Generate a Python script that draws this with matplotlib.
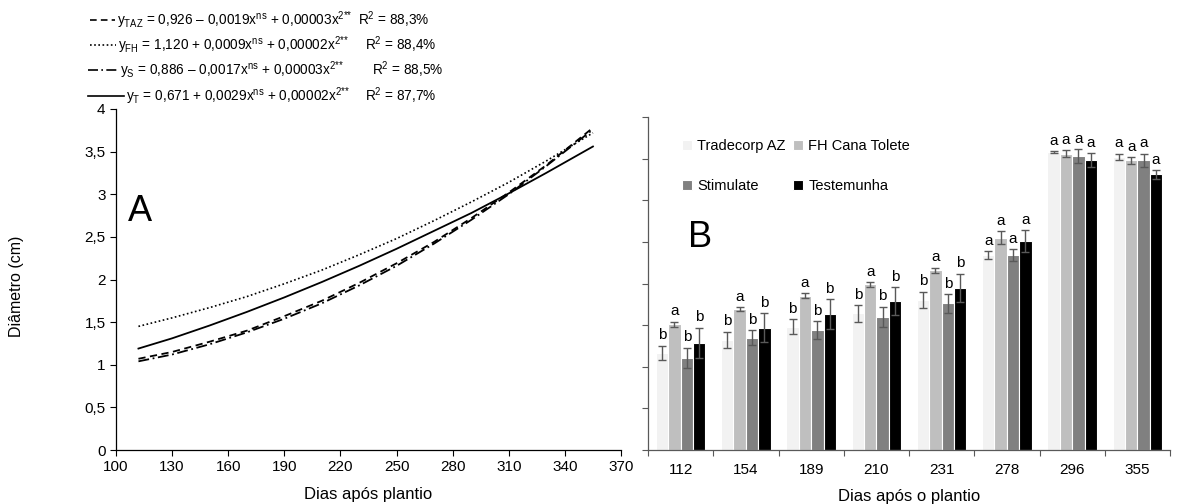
import numpy as np
import matplotlib
matplotlib.use('Agg')
import matplotlib.pyplot as plt
from matplotlib.lines import Line2D
from matplotlib.ticker import FixedLocator

plt.rcParams['font.family'] = ['Liberation Sans', 'DejaVu Sans']
plt.rcParams['mathtext.fontset'] = 'custom'
plt.rcParams['mathtext.rm'] = 'Liberation Sans'
plt.rcParams['mathtext.it'] = 'Liberation Sans'
plt.rcParams['mathtext.default'] = 'regular'

# panel A: fitted curves
days = [112, 130, 150, 170, 190, 210, 230, 250, 270, 290, 310, 330, 355]
curve_taz = [1.07, 1.15, 1.27, 1.40, 1.57, 1.75, 1.96, 2.19, 2.44, 2.72, 3.02, 3.34, 3.78]
curve_fh = [1.45, 1.55, 1.67, 1.80, 1.95, 2.11, 2.29, 2.48, 2.69, 2.91, 3.14, 3.39, 3.72]
curve_s = [1.04, 1.12, 1.24, 1.38, 1.54, 1.72, 1.93, 2.16, 2.42, 2.70, 3.00, 3.33, 3.76]
curve_t = [1.19, 1.31, 1.46, 1.62, 1.79, 1.97, 2.16, 2.36, 2.57, 2.78, 3.01, 3.25, 3.56]

eq_texts = [r'$y_{TAZ}$ = 0,926 – 0,0019x$^{ns}$ + 0,00003x$^{2{*}{*}}$',
            r'$y_{FH}$ = 1,120 + 0,0009x$^{ns}$ + 0,00002x$^{2{*}{*}}$',
            r'$y_{S}$ = 0,886 – 0,0017x$^{ns}$ + 0,00003x$^{2{*}{*}}$',
            r'$y_{T}$ = 0,671 + 0,0029x$^{ns}$ + 0,00002x$^{2{*}{*}}$']
r2_texts = [r'R$^{2}$ = 88,3%', r'R$^{2}$ = 88,4%', r'R$^{2}$ = 88,5%', r'R$^{2}$ = 87,7%']

# panel B: bar means, error bars and letters
dap = ['112', '154', '189', '210', '231', '278', '296', '355']
treatments = ['Tradecorp AZ', 'FH Cana Tolete', 'Stimulate', 'Testemunha']
trade_b = [1.17, 1.32, 1.48, 1.64, 1.80, 2.34, 3.58, 3.52]
fh_b = [1.51, 1.69, 1.85, 1.99, 2.16, 2.55, 3.56, 3.48]
stim_b = [1.11, 1.35, 1.44, 1.60, 1.76, 2.34, 3.53, 3.48]
test_b = [1.29, 1.47, 1.63, 1.79, 1.95, 2.51, 3.48, 3.31]
trade_err = [0.085, 0.10, 0.09, 0.10, 0.10, 0.05, 0.01, 0.04]
fh_err = [0.03, 0.025, 0.03, 0.03, 0.03, 0.08, 0.04, 0.04]
stim_err = [0.12, 0.09, 0.11, 0.12, 0.11, 0.07, 0.085, 0.08]
test_err = [0.18, 0.17, 0.18, 0.17, 0.17, 0.13, 0.085, 0.05]
trade_let = ['b', 'b', 'b', 'b', 'b', 'a', 'a', 'a']
fh_let = ['a', 'a', 'a', 'a', 'a', 'a', 'a', 'a']
stim_let = ['b', 'b', 'b', 'b', 'b', 'a', 'a', 'a']
test_let = ['b', 'b', 'b', 'b', 'b', 'a', 'a', 'a']

W, H = 1194, 504
fig = plt.figure(figsize=(W / 100, H / 100), dpi=100)


def fx(x):
    return x / W


def fy(y):
    return 1 - y / H


fs = 11

# ---------------- panel A
ax_l, ax_r = 116, 621
axA = fig.add_axes([fx(ax_l), fy(450), fx(ax_r - ax_l), (450 - 109) / H])
axA.plot(days, curve_taz, color='black', lw=1.3, ls=(0, (4, 2.5)))
axA.plot(days, curve_fh, color='black', lw=1.2, ls=(0, (1, 1.5)))
axA.plot(days, curve_s, color='black', lw=1.3, ls=(0, (6, 2, 1, 2)))
axA.plot(days, curve_t, color='black', lw=1.3, ls='-')
axA.set_xlim(100, 370)
axA.set_ylim(0, 4)
axA.set_xticks(np.arange(100, 371, 30))
yt = np.arange(0, 4.01, 0.5)
axA.set_yticks(yt)
axA.set_yticklabels([('%g' % v).replace('.', ',') for v in yt])
axA.tick_params(direction='out', length=4, width=0.8, labelsize=fs, colors='black')
for s in ['top', 'right']:
    axA.spines[s].set_visible(False)
for s in ['left', 'bottom']:
    axA.spines[s].set_linewidth(0.9)
axA.set_xlabel('Dias após plantio', fontsize=12, labelpad=9)
axA.set_ylabel('Diâmetro (cm)', fontsize=11.5)
axA.yaxis.set_label_coords((24 - ax_l) / (ax_r - ax_l), 0.48)
axA.text(113, 2.8, 'A', fontsize=26, ha='center', va='center')

# legend of panel A (equations)
styles = [(0, (4, 2.5)), (0, (1, 1.5)), (0, (6, 2, 1, 2)), '-']
rows = [20, 45, 70, 96]
line_x0 = [90, 90, 88, 88]
eq_x = [117, 118, 120, 126]
r2_x = [358, 365, 372, 365]
for st, eq, r2, yy, lx, ex, rx in zip(styles, eq_texts, r2_texts, rows, line_x0, eq_x, r2_x):
    fig.add_artist(Line2D([fx(lx), fx(ex - 2)], [fy(yy), fy(yy)], color='black',
                          lw=1.2, ls=st, transform=fig.transFigure))
    fig.text(fx(ex), fy(yy), eq, fontsize=9.8, va='center', ha='left')
    fig.text(fx(rx), fy(yy), r2, fontsize=9.8, va='center', ha='left')

# ---------------- panel B
bx_l, bx_r = 648, 1170
axB = fig.add_axes([fx(bx_l), fy(450), fx(bx_r - bx_l), (450 - 117) / H])
x = np.arange(len(dap))
means = [trade_b, fh_b, stim_b, test_b]
errs = [trade_err, fh_err, stim_err, test_err]
lets = [trade_let, fh_let, stim_let, test_let]
colors = ['#f2f2f2', '#bfbfbf', '#808080', '#000000']
bw = 0.19
offs = [-1.5 * bw, -0.5 * bw, 0.5 * bw, 1.5 * bw]
bars = []
for m, e, lt, c, o, name in zip(means, errs, lets, colors, offs, treatments):
    b = axB.bar(x + o, m, width=bw, color=c, edgecolor='white', linewidth=0.8, label=name)
    bars.append(b)
    axB.errorbar(x + o, m, yerr=e, fmt='none', ecolor='#595959', elinewidth=1,
                 capsize=3, capthick=1)
    for xi, mi, ei, li in zip(x + o, m, e, lt):
        axB.text(xi, mi + ei + 0.04, li, fontsize=fs, ha='center', va='bottom')
axB.set_xlim(-0.5, len(dap) - 0.5)
axB.set_ylim(0, 4)
axB.set_yticks(yt)
axB.set_yticklabels([])
axB.set_xticks(x)
axB.set_xticklabels(dap)
axB.xaxis.set_minor_locator(FixedLocator(np.arange(-0.5, len(dap), 1.0)))
axB.tick_params(axis='x', which='major', length=0, labelsize=fs, pad=9)
axB.tick_params(axis='x', which='minor', direction='out', length=4, width=0.8, color='#595959')
axB.tick_params(axis='y', direction='out', length=4, width=0.8, color='#595959')
for s in ['top', 'right']:
    axB.spines[s].set_visible(False)
for s in ['left', 'bottom']:
    axB.spines[s].set_color('#595959')
    axB.spines[s].set_linewidth(0.9)
axB.set_xlabel('Dias após o plantio', fontsize=12, labelpad=9)
axB.text(0.3, 2.55, 'B', fontsize=26, ha='center', va='center')
order = [0, 2, 1, 3]
fig.legend([bars[i] for i in order], [treatments[i] for i in order], ncol=2,
           loc='upper left', bbox_to_anchor=(fx(682), fy(139)), frameon=False,
           fontsize=10.5, handlelength=0.7, handleheight=0.7, handletextpad=0.35,
           columnspacing=0.5, labelspacing=1.8, borderpad=0, borderaxespad=0)

fig.savefig('out.png', dpi=100)
